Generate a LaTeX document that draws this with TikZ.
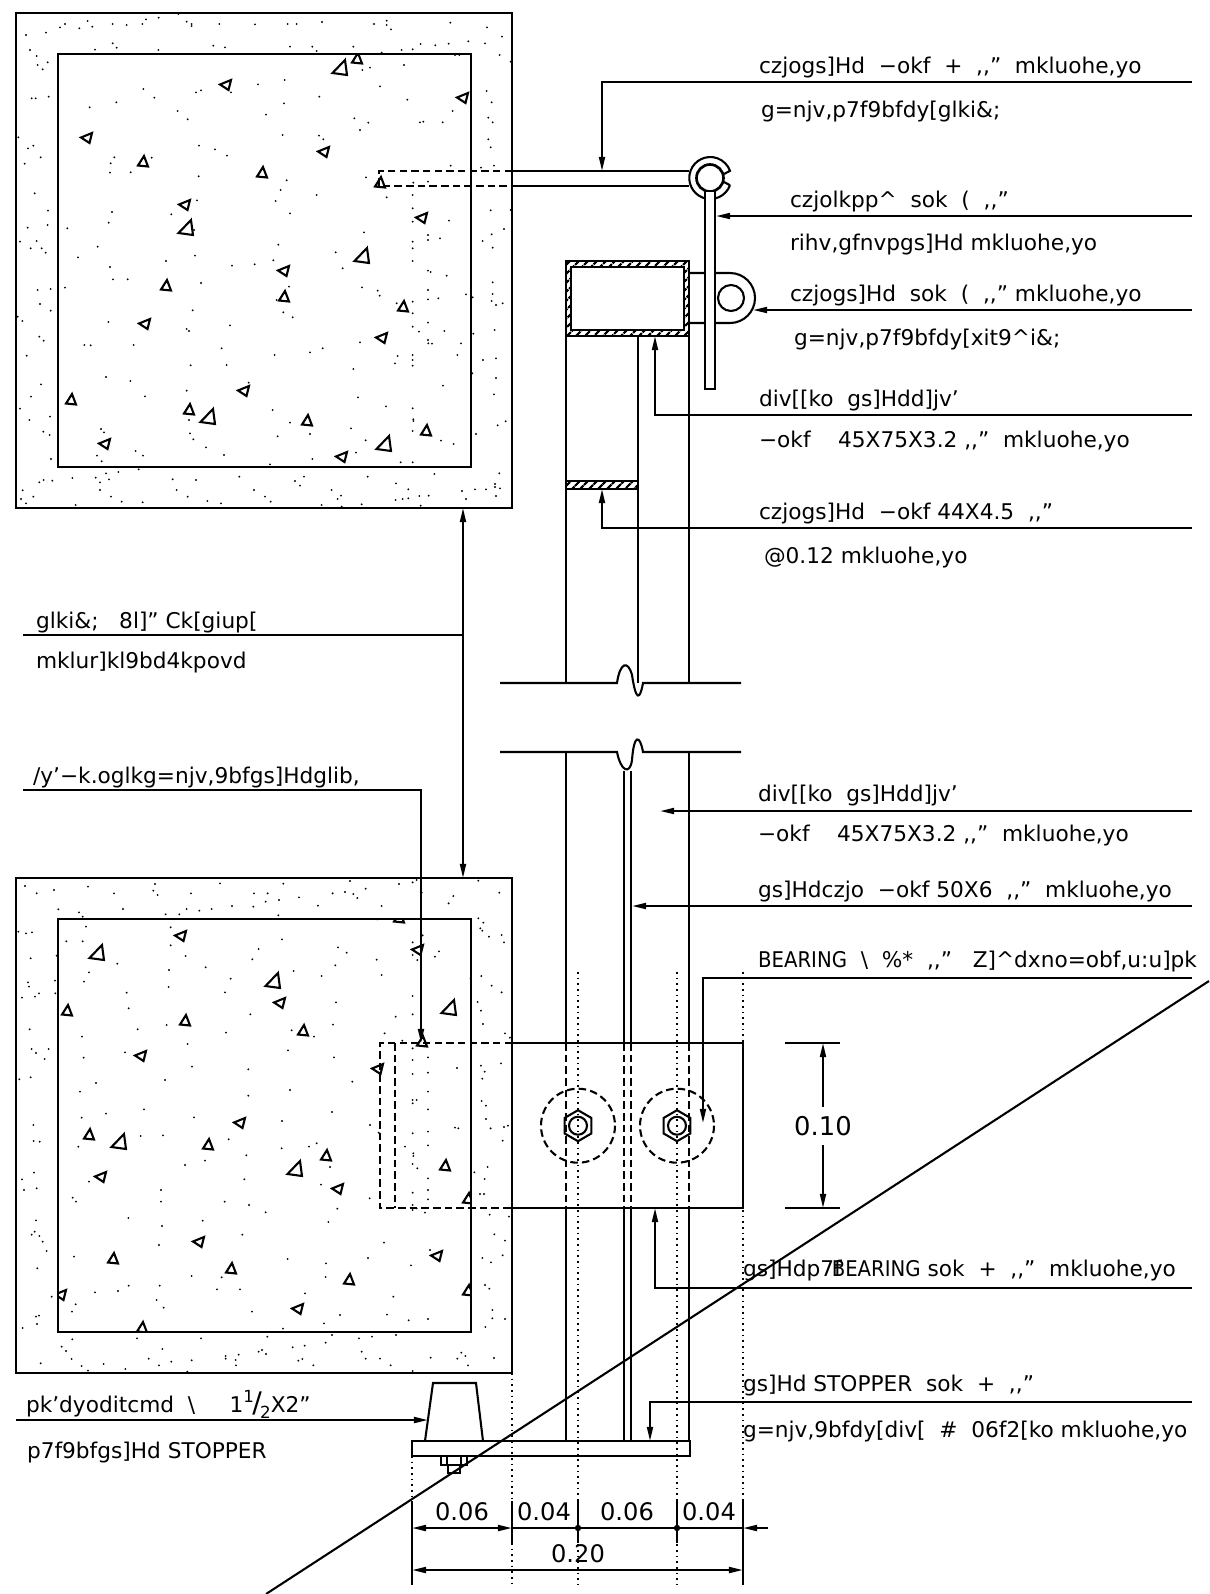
\documentclass[tikz,border=0pt]{standalone}
\usepackage{fontspec}
\setmainfont{DejaVu Sans}
\usetikzlibrary{arrows.meta,patterns.meta}
\newcommand{\inmk}{{,}{,}”}
\newcommand{\brg}{\scalebox{0.91}[1]{BEARING}}
\begin{document}
\begin{tikzpicture}[x=0.6pt, y=-0.6pt, line width=1.25pt,
  >={Triangle[length=8.5pt,width=3.6pt]},
  lbl/.style={anchor=base west,inner sep=0pt,font=\fontsize{13}{16}\selectfont},
  dimtxt/.style={anchor=base,inner sep=0pt,font=\fontsize{14.5}{16}\selectfont},
  hide/.style={dash pattern=on 4.5pt off 2.5pt},
  axis/.style={line width=0.7pt,dash pattern=on 1pt off 2.4pt},
  hatch/.style={pattern={Lines[angle=45,distance=4pt,line width=1.4pt]}}]

\useasboundingbox (0,0) rectangle (1209,1594);

% top block
\draw (16,13) rectangle (512,508);
\draw (58,54) rectangle (471,467);
\begin{scope}
\clip (58,54) rectangle (471,467);
\foreach \x/\y in {340/68,186/228,362/256,208/417,384/444}
  \draw (\x,\y) ++(5,-8) -- ++(-12.5,13) -- ++(14.5,2) -- cycle;
\foreach \x/\y in {357/59,143/162,262/173,380/183,166/286,284/297,403/307,71/400,189/410,307/421,426/431}
  \draw (\x,\y) ++(1,-6) -- ++(-6,9.5) -- ++(10,1) -- cycle;
\foreach \x/\y in {226/85,463/98,87/138,324/152,185/205,422/218,284/271,145/324,382/338,244/391,105/444,342/457}
  \draw (\x,\y) ++(-6,-0.5) -- ++(11,-4.5) -- ++(-2.5,10) -- cycle;
\end{scope}
\begin{scope}[x=0.2pt,y=-0.2pt]
\foreach \a in {(180,82),(195,72),(238,85),(263,63),(277,80),(338,72),(380,75),(427,72),(438,58),(476,53),(535,42),(560,65),(575,72),(575,78),(658,72),(765,73),(863,72),(890,72),(966,66),(1122,72),(1160,62),(1160,75),(1173,88),(1351,68),(1461,82),(1506,110),(78,105),(138,98),(1405,124),(1455,130),(1499,165),(1532,185),(90,150),(110,168),(143,187),(113,195),(128,208),(338,130),(350,143),(285,149),(475,150),(640,137),(675,142),(870,140),(937,140),(950,153),(1060,140),(1145,158),(1205,150),(1238,148),(1262,132),(1306,136),(1346,131),(1365,165),(1378,165),
(95,295),(107,295),(146,290),(55,412),(84,445),(100,437),(122,472),(74,491),(104,580),(144,632),(83,683),(143,675),(60,725),(110,723),(92,745),(125,745),(137,758),(113,870),(152,867),(120,912),(152,932),(53,950),(67,963),(118,1010),(131,1022),(80,1067),(123,1153),(93,1190),(60,1226),(88,1260),(150,1250),(130,1295),(149,1305),(153,1377),
(1460,273),(1475,307),(1465,353),(1478,367),(1465,418),(1472,442),(1472,631),(1532,630),(1512,687),(1475,703),(1448,723),(1478,743),(1478,847),(1478,882),(1475,903),(1488,915),(1508,910),(1418,892),(1484,990),(1420,1001),(1449,1080),(1488,1075),(1488,1134),(1482,1183),(1417,1120),(1428,1302),(1493,1276),(1517,1264),
(355,1416),(318,1420),(327,1438),(287,1433),(300,1447),(118,1447),(131,1440),(157,1442),(217,1434),(300,1470),(68,1471),(333,1490),(365,1505),(428,1507),(63,1497),(78,1510),(100,1490),(227,1515),(416,1408),(518,1438),(588,1440),(530,1470),(563,1490),(622,1503),(663,1510),(718,1430),(762,1470),(795,1490),(812,1505),(885,1443),(900,1457),(912,1430),(995,1470),(1023,1487),(1013,1497),(1025,1520),(965,1515),(1085,1513),(1103,1430),(1188,1450),(1225,1468),(1225,1495),(1208,1497),(1187,1500),(1258,1488),(1286,1487),(1262,1517),(1303,1422),(1386,1473),(1398,1497),(1425,1468),(1458,1468),(1485,1452),(1485,1461),(1500,1465),(1488,1488),(1498,1420),
(1087,210),(1110,203),(1140,259),(1212,195),(1222,299),(854,240),(774,253),(852,310),(958,290),(1358,333),(430,267),(463,293),(603,271),(588,277),(693,277),(349,307),(269,322),(533,333),(563,358),(798,344),(1063,355),(1105,368),(1080,390),(1260,367),(1270,365),(1328,367),(848,405),(957,407),(970,418),(597,437),(645,448),(681,467),(343,472),(332,490),(455,473),(330,518),(392,517),(596,529),(860,541),(842,570),(827,603),(950,585),(1098,532),(1160,592),(1352,497),(1443,503),(1482,497),(1240,548),(1238,585),(1238,625),(1238,665),(1284,545),(1284,705),(1284,720),(1238,725),(1238,745),(1238,783),(1320,715),(1347,662),(1092,697),(336,636),(326,668),(202,685),(293,740),(234,772),(591,601),(514,643),(870,640),(582,690),(835,734),(498,783),(585,767),(696,797),(764,793),(820,781),(1007,757),(1028,805),(330,801),(339,838),(383,838),(195,863),(603,849),(867,860),(1086,862),(1133,872),(1139,887),(1190,910),(1238,905),(1238,940),(1238,980),(1257,995),(1284,812),(1292,816),(1340,827),(1284,870),(1284,898),(1315,895),(1398,883),(1284,968),(1284,1020),(1296,1031),(1285,1030),(1333,993),(1383,1030),(325,966),(578,931),(830,900),(850,937),(878,952),(690,976),(560,987),(567,993),(253,1035),(272,1036),(401,1035),(665,1045),(1080,1027),(930,1057),(968,1045),(824,1065),(1193,1068),(1185,1090),(1238,1065),(1238,1080),(1238,1097),(1372,1065),(572,1096),(680,1095),(1060,1107),(318,1131),(391,1143),(560,1172),(746,1148),(435,1189),(1329,1157),(1074,1192),(1158,1219),(818,1230),(1238,1225),(1240,1258),(1240,1263),(1238,1293),(567,1260),(870,1268),(930,1302),(1053,1285),(303,1287),(312,1297),(570,1300),(580,1318),(618,1342),(833,1309),(1097,1321),(1323,1322),(1361,1332),(407,1353),(429,1367),(291,1367),(305,1384),(672,1365),(937,1377),(1068,1358),(1202,1387),(1238,1387),(810,1393)}
  \fill \a circle (3.2);
\end{scope}

% bottom block
\draw (16,878) rectangle (512,1373);
\draw (58,919) rectangle (471,1332);
\begin{scope}
\clip (58,919) rectangle (471,1332);
\foreach \x/\y in {97/953,273/981,449/1008,119/1142,295/1169}
  \draw (\x,\y) ++(5,-8) -- ++(-12.5,13) -- ++(14.5,2) -- cycle;
\foreach \x/\y in {67/1011,185/1021,303/1031,89/1135,208/1145,326/1156,445/1166,113/1259,231/1269,349/1280,422/1042,142/1328,468/1199,468/1291,399/918}
  \draw (\x,\y) ++(1,-6) -- ++(-6,9.5) -- ++(10,1) -- cycle;
\foreach \x/\y in {181/936,418/950,280/1003,141/1056,378/1069,240/1123,101/1177,338/1189,199/1242,437/1256,61/1295,298/1309}
  \draw (\x,\y) ++(-6,-0.5) -- ++(11,-4.5) -- ++(-2.5,10) -- cycle;
\end{scope}
\begin{scope}[shift={(0,870)},x=0.2pt,y=-0.2pt]
\foreach \a in {(75,48),(110,70),(162,60),(264,50),(342,70),(465,42),(460,62),(473,75),(573,70),(660,40),(850,41),(762,70),(803,70),(797,95),(837,90),(897,82),(998,70),(1035,66),(1060,72),(1072,84),(1050,33),(1097,56),(1197,42),(1238,37),(1250,30),(1265,68),(1360,78),(1346,100),(1435,32),(1498,68),(175,118),(237,127),(248,140),(369,117),(497,133),(538,133),(560,117),(598,122),(635,117),(696,108),(760,110),(835,136),(954,107),(1145,108),(1132,148),(1435,145),(1450,158),(1441,175),(1447,182),(1467,200),(1505,195),(1512,217),
(55,185),(78,190),(96,187),(92,265),(84,337),(87,350),(165,332),(166,370),(117,370),(105,380),(66,383),(170,257),
(258,170),(199,214),(248,214),(512,172),(512,226),(557,258),(846,208),(776,237),(757,268),(1014,232),(1040,248),(1130,269),(1006,286),(1145,315),(1238,217),(1268,196),(1238,255),(1252,270),(1305,260),(1317,244),
(352,281),(267,307),(252,335),(507,300),(617,292),(692,326),(506,351),(675,367),(380,368),(881,303),(965,318),(1238,378),(1008,397),(1187,440),(1238,433),(386,415),(751,433),(500,465),(999,464),(413,478),(678,488),(875,481),(942,500),(1154,490),(1207,512),
(1412,325),(1444,318),(1475,347),(1505,367),(1433,396),(1443,422),(1449,462),(1515,490),(1530,503),
(89,478),(246,500),(563,522),(864,541),(95,537),(108,549),(134,567),(146,537),(251,563),(375,547),(576,590),(745,598),(1002,562),(1238,535),(1238,570),(1284,562),(1238,612),(1284,608),(1371,594),(1443,587),(1454,605),(1447,626),(1503,580),
(58,628),(92,622),(288,639),(240,665),(495,630),(870,660),(1057,635),(745,677),(1238,690),(1250,690),(1238,700),(1284,665),(1284,718),(1445,693),(1458,707),
(245,743),(318,731),(432,718),(582,742),(846,753),(996,726),(1110,765),(100,765),(101,813),(119,815),(235,830),(422,798),(489,796),(686,808),(1365,773),(1375,775),(1458,747),(1472,775),(1512,771),(1524,767),(1508,812),(1136,788),(1238,790),(1284,785),(1284,826),
(845,835),(927,830),(950,820),(739,856),(615,872),(555,885),(990,891),(1215,830),(1240,850),(1240,858),(1238,882),(1252,895),(1463,891),(1423,907),(1454,927),(102,908),(66,928),(72,960),(110,955),(267,935),(733,928),(963,944),(1284,925),(1284,960),(1238,968),(1284,988),(1440,972),(1452,972),(218,983),(228,995),(483,960),(483,995),(674,995),(747,1005),(797,1027),(1012,1016),(1109,985),(1238,1005),(1238,1020),(1250,1015),(1275,1028),
(385,1044),(608,1052),(985,1056),(108,1051),(104,1085),(95,1094),(118,1098),(128,1115),(140,1143),(486,1068),(727,1094),(477,1125),(1152,1118),(1469,1034),(1527,1040),(1483,1093),(1515,1112),(222,1160),(112,1195),(863,1167),(978,1180),(1104,1164),(1233,1186),(1290,1140),(1447,1164),(1473,1177),(1508,1156),
(575,1218),(665,1222),(977,1221),(479,1247),(386,1247),(354,1263),(285,1267),(155,1280),(651,1258),(720,1258),(915,1270),(1180,1280),(1455,1245),(1468,1256),
(470,1290),(491,1313),(227,1303),(216,1325),(108,1340),(117,1337),(111,1362),(68,1374),(756,1325),(1020,1335),(1161,1334),(1226,1351),(1284,1347),(972,1360),(849,1376),(1477,1320),(1477,1345),(1456,1371),(1515,1347),
(217,1408),(411,1405),(603,1405),(802,1400),(996,1395),(1077,1405),(1116,1400),(1188,1395),(977,1418),(914,1427),(878,1432),(185,1430),(198,1443),(215,1467),(487,1437),(776,1445),(786,1440),(798,1452),(677,1458),(677,1466),(716,1454),(707,1470),(708,1486),(575,1471),(446,1466),(514,1475),(477,1486),(122,1480),(245,1488),(311,1482),(264,1502),(376,1497),(562,1505),(907,1467),(895,1472),(940,1486),(1085,1445),(1097,1466),(1140,1466),(1172,1486),(1292,1463),(1372,1466),(1384,1448),(1396,1458),(1404,1486),(1482,1464),(1238,1503)}
  \fill \a circle (3.2);
\end{scope}

% hanger rod and ring
\draw[hide] (512,171)--(379,171)--(379,186)--(512,186);
\draw (512,171)--(689,171);
\draw (512,186)--(689,186);
\draw (730,185.2) arc[start angle=20,end angle=340,radius=21]--(724,174);
\draw (730,185.2)--(724,182);
\draw[line width=1.6pt] (710,178) circle (13.5);

% tube, tab and clip
\fill[hatch,even odd rule] (566,261) rectangle (689,336) (571,267) rectangle (684,330);
\draw (566,261) rectangle (689,336);
\draw (571,267) rectangle (684,330);
\draw (689,273)--(730,273) arc[start angle=-90,end angle=90,radius=25]--(689,323);
\draw (731,298) circle (13);
\draw[fill=white] (705,191) rectangle (715,389);

% upper webs
\draw (566,336)--(566,683);
\draw (689,336)--(689,683);
\draw (638,336)--(638,683);
\fill[hatch] (566,481) rectangle (638,489);
\draw (566,481) rectangle (638,489);

% break lines
\draw (500,683)--(617,683) .. controls (620,662) and (628,660) .. (632,675) .. controls (636,702) and (640,700) .. (643,683)--(741,683);
\draw (500,752)--(617,752) .. controls (621,772) and (630,775) .. (632,760) .. controls (634,733) and (640,735) .. (643,752)--(741,752);

% lower webs
\draw (566,752)--(566,1043);
\draw (689,752)--(689,1043);
\draw (624,771)--(624,1043);
\draw (631,771)--(631,1043);
\foreach \x in {566,624,631,689} {
  \draw[hide] (\x,1043)--(\x,1208);
  \draw (\x,1208)--(\x,1441);
}

% bearing plate
\draw (512,1043) -- (743,1043) -- (743,1208) -- (512,1208) -- cycle;
\draw[hide] (512,1043)--(380,1043)--(380,1208)--(512,1208);
\draw[hide] (395,1043)--(395,1208);
\foreach \x in {578,677} {
  \draw[hide] (\x,1125.7) circle (37);
  \draw (\x,1125.7) circle (9);
  \draw (\x,1110.2) -- ++(13.4,7.75) -- ++(0,15.5) -- ++(-13.4,7.75) -- ++(-13.4,-7.75) -- ++(0,-15.5) -- cycle;
  \draw[axis] (\x,972)--(\x,1585);
}
\draw[axis] (743,972)--(743,1585);
\draw[axis] (512,1373)--(512,1585);
\draw[axis] (412,1456)--(412,1500);

% base plate and stopper
\draw (412,1441) rectangle (690,1456);
\draw (425,1441)--(433,1383)--(476,1383)--(483,1441);
\draw (441,1456) rectangle (467,1465);
\draw (447,1456)--(447,1465);
\draw (461,1456)--(461,1465);
\draw (448,1465) rectangle (460,1473);

% text
\node[lbl] (a1) at (758,73) {czjogs]Hd~~−okf~~+~~\inmk~~mkluohe,yo};
\node[lbl] (a2) at (760,117) {g=njv,p7f9bfdy[glki\&;};
\node[lbl] (a3) at (789,207) {czjolkpp\textasciicircum~~sok~~(~~\inmk};
\node[lbl] (a4) at (789,250) {rihv,gfnvpgs]Hd~mkluohe,yo};
\node[lbl] (a5) at (789,301) {czjogs]Hd~~sok~~(~~\inmk~mkluohe,yo};
\node[lbl] (a6) at (793,345) {g=njv,p7f9bfdy[xit9\textasciicircum i\&;};
\node[lbl] (a7) at (758,406) {div[[ko~~gs]Hdd]jv’};
\node[lbl] (a8) at (758,447) {−okf~~~~45X75X3.2~\inmk~~mkluohe,yo};
\node[lbl] (a9) at (758,519) {czjogs]Hd~~−okf 44X4.5~~\inmk};
\node[lbl] (a10) at (763,563) {@0.12~mkluohe,yo};
\node[lbl] (a11) at (35,628) {glki\&;~~~8l]”~Ck[giup[};
\node[lbl] (a12) at (35,668) {mklur]kl9bd4kpovd};
\node[lbl] (a13) at (32,783) {/y’−k.oglkg=njv,9bfgs]Hdglib,};
\node[lbl] (a14) at (757,801) {div[[ko~~gs]Hdd]jv’};
\node[lbl] (a15) at (757,841) {−okf~~~~45X75X3.2~\inmk~~mkluohe,yo};
\node[lbl] (a16) at (757,897) {gs]Hdczjo~~−okf 50X6~~\inmk~~mkluohe,yo};
\node[lbl] (a17) at (757,967) {\brg~~\textbackslash~~\%*~~\inmk~~~Z]\textasciicircum dxno=obf,u:u]pk};
\node[lbl] (a18) at (742,1276) {gs]Hdp7f\kern-6pt \brg\ sok~~+~~\inmk~~mkluohe,yo};
\node[lbl] (a19) at (742,1391) {gs]Hd STOPPER~~sok~~+~~\inmk};
\node[lbl] (a20) at (742,1437) {g=njv,9bfdy[div[~~\#~~06f2[ko~mkluohe,yo};
\node[lbl] (a21) at (25,1412) {pk’dyoditcmd~~\textbackslash~~~~~1\raisebox{6pt}{\fontsize{10}{10}\selectfont 1}\kern-1pt{\fontsize{17}{17}\selectfont /}\kern-1pt\raisebox{-4pt}{\fontsize{10}{10}\selectfont 2}X2”};
\node[lbl] (a22) at (26,1458) {p7f9bfgs]Hd STOPPER};

% leaders
\coordinate (p1) at (1192,82);
\coordinate (p2) at (602,171);
\draw[->] (p1) -| (p2);
\coordinate (p3) at (1192,216);
\coordinate (p4) at (716,216);
\draw[->] (p3) -- (p4);
\coordinate (p5) at (1192,310);
\coordinate (p6) at (753,310);
\draw[->] (p5) -- (p6);
\coordinate (p7) at (1192,415);
\coordinate (p8) at (655,336);
\draw[->] (p7) -| (p8);
\coordinate (p9) at (1192,528);
\coordinate (p10) at (602,489);
\draw[->] (p9) -| (p10);
\coordinate (p11) at (23,635);
\coordinate (p12) at (463,635);
\coordinate (p13) at (463,508);
\coordinate (p14) at (463,878);
\draw (p11) -- (p12);
\draw[<->] (p13) -- (p14);
\coordinate (p15) at (23,790);
\coordinate (p16) at (421,1043);
\draw[->] (p15) -| (p16);
\coordinate (p17) at (1192,811);
\coordinate (p18) at (660,811);
\draw[->] (p17) -- (p18);
\coordinate (p19) at (1192,906);
\coordinate (p20) at (632,906);
\draw[->] (p19) -- (p20);
\coordinate (p21) at (1192,978);
\coordinate (p22) at (703,1123);
\draw[->] (p21) -| (p22);
\coordinate (p23) at (1192,1288);
\coordinate (p24) at (655,1208);
\draw[->] (p23) -| (p24);
\coordinate (p25) at (1192,1402);
\coordinate (p26) at (650,1441);
\draw[->] (p25) -| (p26);
\coordinate (p27) at (16,1420);
\coordinate (p28) at (428,1420);
\draw[->] (p27) -- (p28);

% dimensions
\node[dimtxt,font=\fontsize{15.5}{17}\selectfont,anchor=center,inner sep=5pt] (d10) at (823,1126) {0.10};
\coordinate (b1) at (823,1043);
\coordinate (b2) at (823,1208);
\draw[->] (d10) -- (b1);
\draw[->] (d10) -- (b2);
\draw (785,1043)--(840,1043);
\draw (785,1208)--(840,1208);

\coordinate (c0) at (412,1528);
\coordinate (c1) at (512,1528);
\coordinate (c2) at (578,1528);
\coordinate (c3) at (677,1528);
\coordinate (c4) at (743,1528);
\coordinate (c5) at (768,1528);
\draw[<->] (c0) -- (c1);
\draw (c1) -- (c4);
\draw[->] (c5) -- (c4);
\fill (c2) circle (3.2);
\fill (c3) circle (3.2);
\foreach \x in {512,578,677}
  \draw (\x,1501)--(\x,1543);
\foreach \x in {412,743}
  \draw (\x,1501)--(\x,1585);
\coordinate (e0) at (412,1570);
\coordinate (e1) at (743,1570);
\draw[<->] (e0) -- (e1);
\node[dimtxt] (t1) at (462,1520) {0.06};
\node[dimtxt] (t2) at (544,1520) {0.04};
\node[dimtxt] (t3) at (627,1520) {0.06};
\node[dimtxt] (t4) at (709,1520) {0.04};
\node[dimtxt] (t5) at (578,1562) {0.20};

% long diagonal
\coordinate (s0) at (1209,981);
\coordinate (s1) at (266,1594);
\draw (s0) -- (s1);

\end{tikzpicture}
\end{document}
